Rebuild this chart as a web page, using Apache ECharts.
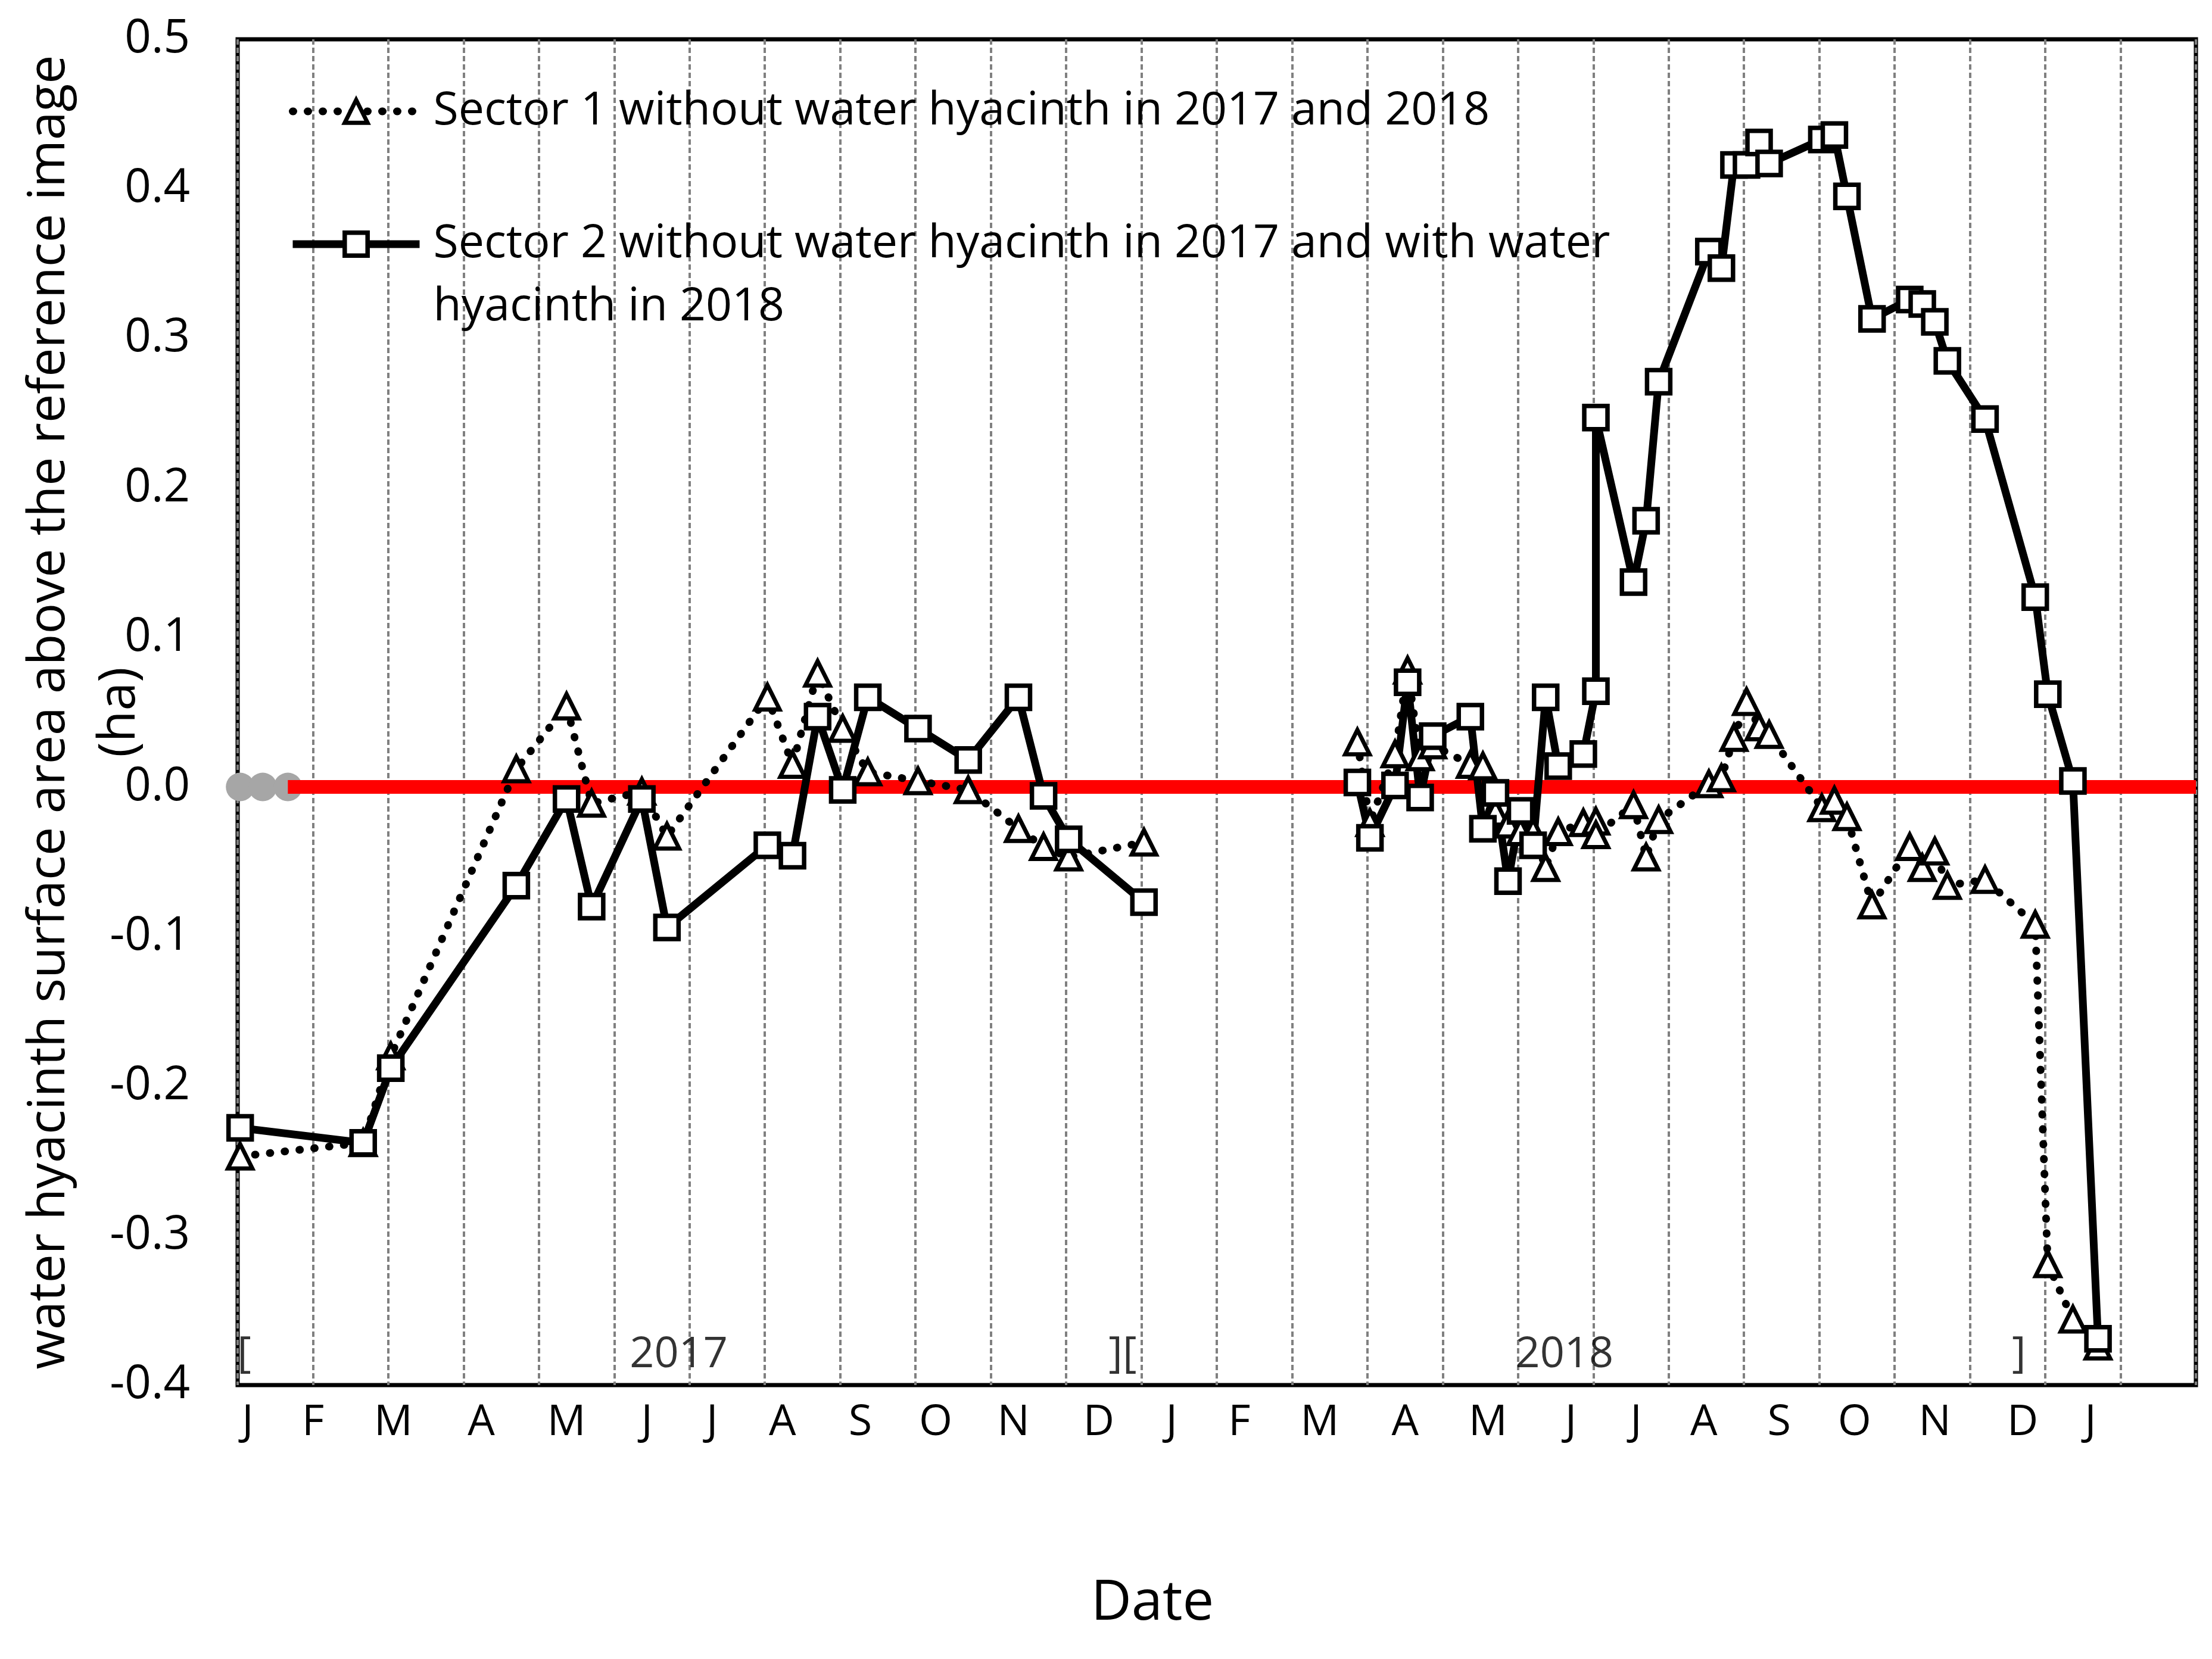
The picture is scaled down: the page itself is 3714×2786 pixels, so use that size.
<!DOCTYPE html>
<html>
<head>
<meta charset="utf-8">
<title>water hyacinth surface area</title>
<script src="https://cdn.jsdelivr.net/npm/echarts@6.0.0/dist/echarts.min.js"></script>
<style>
    html, body { margin: 0; padding: 0; background: #fff; }
    #main { width: 3714px; height: 2786px; }
</style>
</head>
<body>
<div id="main"></div>
<script>
// x values are days counted from 1 Jan 2017, gridlines every 30 days
var days2017 = [1, 50, 61, 111, 131, 141, 161, 171, 211, 221, 231, 241, 251, 271, 291, 311, 321, 331, 361];
var sector1_2017 = [-0.247, -0.238, -0.18, 0.012, 0.054, -0.011, -0.003, -0.033, 0.060, 0.015,
    0.076, 0.039, 0.010, 0.004, -0.002, -0.028, -0.040, -0.047, -0.037];
var sector2_2017 = [-0.228, -0.238, -0.188, -0.066, -0.008, -0.080, -0.008, -0.094, -0.039, -0.046,
    0.047, -0.002, 0.060, 0.039, 0.018, 0.060, -0.006, -0.035, -0.077];

var days2018 = [446, 451, 461, 466, 471, 476, 491, 496, 501, 506, 511, 516, 521, 526, 536, 541, 541,
    556, 561, 566, 586, 591, 596, 601, 606, 610, 631, 636, 641, 651, 666, 671, 676, 681, 696, 716, 721, 731, 741];
var sector1_2018 = [0.030, -0.024, 0.022, 0.078, 0.020, 0.028, 0.015, 0.014, -0.017, -0.025, -0.030, -0.030,
    -0.054, -0.030, -0.024, -0.023, -0.032, -0.012, -0.047, -0.022, 0.002, 0.006, 0.033, 0.057, 0.040, 0.035,
    -0.014, -0.009, -0.020, -0.079, -0.040, -0.054, -0.043, -0.066, -0.062, -0.092, -0.319, -0.356, -0.374];
var sector2_2018 = [0.003, -0.034, 0.001, 0.070, -0.007, 0.034, 0.047, -0.028, -0.004, -0.063, -0.016, -0.039,
    0.060, 0.014, 0.022, 0.064, 0.247, 0.137, 0.178, 0.271, 0.358, 0.347, 0.416, 0.416, 0.431, 0.417,
    0.433, 0.436, 0.395, 0.313, 0.326, 0.323, 0.311, 0.285, 0.246, 0.127, 0.062, 0.004, -0.369];

// reference level (grey dots + red line)
var refDotDays = [1, 10, 20];
var refLineDays = [20, 780];

// month letters under the axis and where they sit
var monthLetters = ['J', 'F', 'M', 'A', 'M', 'J', 'J', 'A', 'S', 'O', 'N', 'D',
    'J', 'F', 'M', 'A', 'M', 'J', 'J', 'A', 'S', 'O', 'N', 'D', 'J'];
var monthLabelDays = [4, 30, 62, 97, 131, 163, 189, 217, 248, 278, 309, 343,
    372, 399, 431, 465, 498, 531, 557, 584, 614, 644, 676, 711, 738];

// year brackets inside the plot
var yearMarks = ['[', '2017', '][', '2018', ']'];
var yearMarkDays = [2.6, 175.7, 352.5, 528.5, 709.5];
var yearMarkLevel = -0.38;

var yTicks = { min: -0.4, max: 0.5, step: 0.1 };

var s1Name = 'Sector 1 without water hyacinth in 2017 and 2018';
var s2Name = 'Sector 2 without water hyacinth in 2017 and with water\nhyacinth in 2018';

var FONT = 'Open Sans';

function pairs(days, vals) {
    var out = [];
    for (var i = 0; i < days.length; i++) {
        out.push([days[i], vals[i]]);
    }
    return out;
}

// a '-' point breaks the line between the two years
var sector1 = pairs(days2017, sector1_2017).concat([[400, '-']], pairs(days2018, sector1_2018));
var sector2 = pairs(days2017, sector2_2017).concat([[400, '-']], pairs(days2018, sector2_2018));

var refDots = refDotDays.map(function (d) { return [d, 0]; });
var refLine = refLineDays.map(function (d) { return [d, 0]; });
var marks = yearMarkDays.map(function (d) { return [d, yearMarkLevel]; });

var triStyle = { color: '#fff', borderColor: '#000', borderWidth: 7 };
var sqStyle = { color: '#fff', borderColor: '#000', borderWidth: 7.5 };
var dotLine = { color: '#000', width: 13, type: [1, 24], cap: 'round' };
var solidLine = { color: '#000', width: 13, type: 'solid' };

var chart = echarts.init(document.getElementById('main'), null, { renderer: 'canvas', devicePixelRatio: 1 });

var option = {
    animation: false,
    backgroundColor: '#fff',
    textStyle: { fontFamily: FONT },
    grid: {
        left: 399, right: 27, top: 66, bottom: 460,
        outerBoundsMode: 'none',
        show: true, borderColor: '#000', borderWidth: 7, backgroundColor: 'transparent'
    },
    legend: {
        orient: 'vertical',
        left: 485,
        top: 134,
        padding: 0,
        itemWidth: 213,
        itemHeight: 48,
        itemGap: 11,
        textStyle: { fontFamily: FONT, fontSize: 77, color: '#000', lineHeight: 106, padding: [0, 0, 0, 18] },
        // empty first line keeps the symbol level with the first text line
        formatter: function (name) {
            return name === s2Name ? '\n' + name : name;
        },
        data: [
            { name: s1Name, itemStyle: triStyle, lineStyle: dotLine },
            { name: s2Name, itemStyle: sqStyle, lineStyle: solidLine }
        ]
    },
    xAxis: {
        type: 'value',
        min: 0,
        max: 780,
        interval: 30,
        axisLine: { show: false },
        axisTick: { show: false },
        splitLine: { show: true, lineStyle: { color: '#808080', width: 4, type: [9, 5] } },
        axisLabel: {
            customValues: monthLabelDays,
            margin: 27,
            fontFamily: FONT,
            fontSize: 72,
            color: '#000',
            formatter: function (v) {
                var i = monthLabelDays.indexOf(v);
                return i >= 0 ? monthLetters[i] : '';
            }
        }
    },
    yAxis: {
        type: 'value',
        min: yTicks.min,
        max: yTicks.max,
        interval: yTicks.step,
        axisLine: { show: false },
        axisTick: { show: false },
        splitLine: { show: false },
        axisLabel: {
            margin: 80,
            fontFamily: FONT,
            fontSize: 78,
            color: '#000',
            formatter: function (v) { return v.toFixed(1); }
        },
        name: 'water hyacinth surface area above the reference image\n(ha)',
        nameLocation: 'middle',
        nameRotate: 90,
        nameGap: 139,
        nameMoveOverlap: false,
        nameTextStyle: { fontFamily: FONT, fontSize: 86, lineHeight: 118, color: '#000', align: 'center' }
    },
    graphic: [{
        type: 'text',
        x: 1935,
        y: 2693,
        style: { text: 'Date', font: '94px "' + FONT + '"', fill: '#000', align: 'center', verticalAlign: 'middle' }
    }],
    series: [
        {
            name: 'reference',
            type: 'line',
            data: refLine,
            symbol: 'none',
            silent: true,
            lineStyle: { color: '#ff0000', width: 23 }
        },
        {
            name: 'reference dots',
            type: 'scatter',
            data: refDots,
            symbolSize: 48,
            silent: true,
            itemStyle: { color: '#a6a6a6', opacity: 1 }
        },
        {
            name: 'years',
            type: 'scatter',
            data: marks,
            symbolSize: 1,
            silent: true,
            itemStyle: { color: 'transparent' },
            label: {
                show: true,
                position: 'inside',
                fontFamily: FONT,
                fontSize: 72,
                color: '#000',
                formatter: function (p) { return yearMarks[p.dataIndex]; }
            }
        },
        {
            name: s1Name,
            type: 'line',
            data: sector1,
            symbol: 'triangle',
            symbolSize: 41,
            showAllSymbol: true,
            itemStyle: triStyle,
            lineStyle: dotLine
        },
        {
            name: s2Name,
            type: 'line',
            data: sector2,
            symbol: 'rect',
            symbolSize: 39,
            showAllSymbol: true,
            itemStyle: sqStyle,
            lineStyle: solidLine
        }
    ]
};

chart.setOption(option);
</script>
</body>
</html>
